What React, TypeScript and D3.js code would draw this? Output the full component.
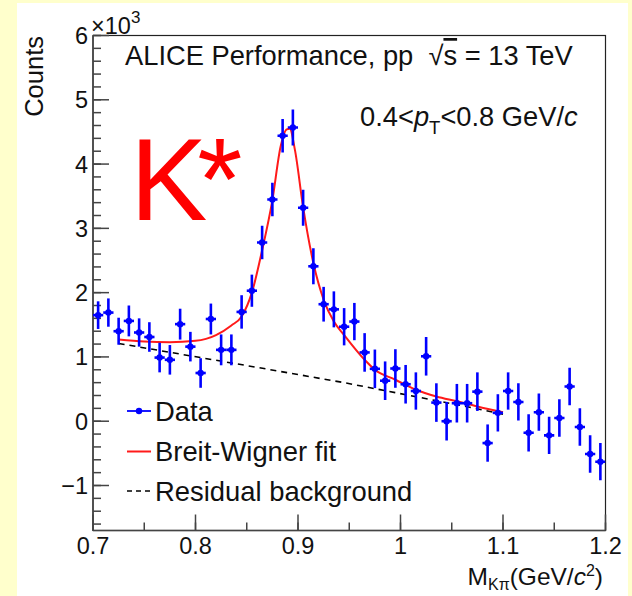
import React from "react";
import * as d3 from "d3";

// ---- data (counts in units of 10^3) ----
const binCenters = [
  0.705, 0.715, 0.725, 0.735, 0.745, 0.755, 0.765, 0.775, 0.785, 0.795,
  0.805, 0.815, 0.825, 0.835, 0.845, 0.855, 0.865, 0.875, 0.885, 0.895,
  0.905, 0.915, 0.925, 0.935, 0.945, 0.955, 0.965, 0.975, 0.985, 0.995,
  1.005, 1.015, 1.025, 1.035, 1.045, 1.055, 1.065, 1.075, 1.085, 1.095,
  1.105, 1.115, 1.125, 1.135, 1.145, 1.155, 1.165, 1.175, 1.185, 1.195,
];
const counts = [
  1.65, 1.69, 1.40, 1.56, 1.38, 1.31, 0.99, 0.955, 1.51, 1.16,
  0.75, 1.59, 1.11, 1.11, 1.70, 2.03, 2.78, 3.45, 4.44, 4.57,
  3.32, 2.41, 1.82, 1.74, 1.47, 1.55, 1.07, 0.815, 0.63, 0.82,
  0.575, 0.47, 1.01, 0.29, 0.0, 0.28, 0.28, 0.46, -0.34, 0.13,
  0.47, 0.30, -0.18, 0.14, -0.22, 0.05, 0.54, -0.09, -0.51, -0.63,
];
const errors = [
  0.215, 0.22, 0.21, 0.24, 0.22, 0.23, 0.23, 0.23, 0.24, 0.23,
  0.23, 0.24, 0.24, 0.24, 0.26, 0.25, 0.26, 0.26, 0.26, 0.28,
  0.28, 0.28, 0.27, 0.28, 0.29, 0.29, 0.30, 0.30, 0.30, 0.30,
  0.30, 0.29, 0.30, 0.30, 0.30, 0.30, 0.30, 0.30, 0.29, 0.29,
  0.29, 0.29, 0.29, 0.29, 0.29, 0.29, 0.29, 0.29, 0.29, 0.29,
];
const binHalfWidth = 0.005;

// Breit-Wigner fit curve
const fitMass = [
  0.725, 0.75, 0.775, 0.8, 0.82, 0.835, 0.845, 0.855, 0.865, 0.875,
  0.883, 0.889, 0.892, 0.897, 0.905, 0.915, 0.925, 0.935, 0.945, 0.965,
  0.975, 0.995, 1.015, 1.035, 1.055, 1.075, 1.1,
];
const fitCounts = [
  1.27, 1.24, 1.23, 1.25, 1.34, 1.49, 1.63, 2.0, 2.66, 3.44,
  4.27, 4.54, 4.55, 4.22, 3.33, 2.46, 1.89, 1.55, 1.34, 0.955,
  0.8, 0.645, 0.49, 0.385, 0.31, 0.23, 0.14,
];
// residual background
const bgMass = [0.725, 0.87, 0.945, 1.07, 1.1];
const bgCounts = [1.21, 0.81, 0.6, 0.21, 0.11];

const xTicks = [0.7, 0.8, 0.9, 1.0, 1.1, 1.2];
const xTickLabels = ["0.7", "0.8", "0.9", "1", "1.1", "1.2"];
const yTicks = [-1, 0, 1, 2, 3, 4, 5, 6];
const yTickLabels = ["\u22121", "0", "1", "2", "3", "4", "5", "6"];
const legendLabels = ["Data", "Breit-Wigner fit", "Residual background"];

const W = 632;
const H = 596;
const FONT = "'Liberation Sans', Arial, Helvetica, sans-serif";

export default function App() {
  const left = 93, right = 605.5, top = 35.5, bottom = 530.5;
  const x = d3.scaleLinear().domain([0.7, 1.2]).range([left, right]);
  const y = d3.scaleLinear().domain([-1.7, 6]).range([bottom, top]);

  const xMinor = d3.range(0, 11).map((i) => 0.7 + i * 0.05);
  const yMinor = d3.range(0, 39).map((i) => -1.6 + i * 0.2).filter((v) => v <= 6.0001);

  const line = d3
    .line<[number, number]>()
    .x((d) => x(d[0]))
    .y((d) => y(d[1]))
    .curve(d3.curveMonotoneX);
  const fitPath = line(fitMass.map((m, i) => [m, fitCounts[i]]) as [number, number][]) || "";
  const bgPath = d3
    .line<[number, number]>()
    .x((d) => x(d[0]))
    .y((d) => y(d[1]))(bgMass.map((m, i) => [m, bgCounts[i]]) as [number, number][]) || "";

  const axisColor = "#444";
  const tickFont = 23.5;

  const legendY = [411, 451.5, 491];

  return (
    <svg
      width={W}
      height={H}
      style={{ position: "absolute", left: 0, top: 0, fontFamily: FONT }}
    >
      <rect x={0} y={0} width={W} height={H} fill="#ffffcc" />
      <rect x={17} y={3} width={611} height={H - 3} fill="#ffffff" />

      <defs>
        <clipPath id="plotclip">
          <rect x={left} y={top} width={right - left} height={bottom - top} />
        </clipPath>
      </defs>

      {/* frame */}
      <rect
        x={left}
        y={top}
        width={right - left}
        height={bottom - top}
        fill="none"
        stroke="#222"
        strokeWidth={1.2}
      />

      {/* y ticks */}
      {yMinor.map((v, i) => (
        <line key={"ym" + i} x1={left} x2={left + 8} y1={y(v)} y2={y(v)} stroke={axisColor} strokeWidth={1.5} />
      ))}
      {yTicks.map((v, i) => (
        <g key={"yt" + i}>
          <line x1={left} x2={left + 16} y1={y(v)} y2={y(v)} stroke={axisColor} strokeWidth={1.5} />
          <text x={88} y={y(v) + 8.5} textAnchor="end" fontSize={tickFont} fill="#111">
            {yTickLabels[i]}
          </text>
        </g>
      ))}
      {/* x ticks */}
      {xMinor.map((v, i) => (
        <line key={"xm" + i} x1={x(v)} x2={x(v)} y1={bottom} y2={bottom - 8} stroke={axisColor} strokeWidth={1.5} />
      ))}
      {xTicks.map((v, i) => (
        <g key={"xt" + i}>
          <line x1={x(v)} x2={x(v)} y1={bottom} y2={bottom - 16} stroke={axisColor} strokeWidth={1.5} />
          <text x={x(v)} y={554} textAnchor="middle" fontSize={tickFont} fill="#111">
            {xTickLabels[i]}
          </text>
        </g>
      ))}
      <line x1={left} x2={left} y1={top} y2={bottom} stroke={axisColor} strokeWidth={1.5} />
      <line x1={left} x2={right} y1={bottom} y2={bottom} stroke={axisColor} strokeWidth={1.5} />

      {/* x10^3 */}
      <text x={91} y={34} fontSize={23.5} fill="#111">
        ×10
        <tspan dy={-11} fontSize={17}>3</tspan>
      </text>

      {/* axis titles */}
      <text
        transform={`translate(43,36) rotate(-90)`}
        textAnchor="end"
        fontSize={25.5}
        fill="#111"
      >
        Counts
      </text>
      <text x={603} y={585} textAnchor="end" fontSize={24.5} fill="#111">
        M
        <tspan dy={5} fontSize={16}>Kπ</tspan>
        <tspan dy={-5}>(GeV/</tspan>
        <tspan fontStyle="italic">c</tspan>
        <tspan dy={-9} fontSize={16}>2</tspan>
        <tspan dy={9}>)</tspan>
      </text>

      {/* curves */}
      <g clipPath="url(#plotclip)">
        <path d={bgPath} fill="none" stroke="#000" strokeWidth={1.6} strokeDasharray="6,5" />
        <path d={fitPath} fill="none" stroke="#ff1a1a" strokeWidth={2} />
        {binCenters.map((m, i) => (
          <g key={"pt" + i} stroke="#0000ff" strokeWidth={2.6}>
            <line x1={x(m)} x2={x(m)} y1={y(counts[i] - errors[i])} y2={y(counts[i] + errors[i])} />
            <line x1={x(m - binHalfWidth)} x2={x(m + binHalfWidth)} y1={y(counts[i])} y2={y(counts[i])} />
            <circle cx={x(m)} cy={y(counts[i])} r={3.2} fill="#0000ff" stroke="none" />
          </g>
        ))}
      </g>

      {/* texts */}
      <text x={125} y={65} fontSize={27.3} fill="#111">
        ALICE Performance, pp{"\u00a0\u00a0"}√
        <tspan style={{ textDecoration: "overline" }}>s</tspan> = 13 TeV
      </text>
      <text x={360} y={126} fontSize={27.3} fill="#111">
        0.4&lt;
        <tspan fontStyle="italic">p</tspan>
        <tspan dy={8} fontSize={18.5}>T</tspan>
        <tspan dy={-8}>&lt;0.8 GeV/</tspan>
        <tspan fontStyle="italic">c</tspan>
      </text>
      <text x={130} y={220} fontSize={116} fill="#ff0000" letterSpacing={-10}>
        K*
      </text>

      {/* legend */}
      <g>
        <line x1={127} x2={151} y1={legendY[0]} y2={legendY[0]} stroke="#0000ff" strokeWidth={1.8} />
        <circle cx={139} cy={legendY[0]} r={3.2} fill="#0000ff" />
        <line x1={127} x2={151} y1={legendY[1]} y2={legendY[1]} stroke="#ff1a1a" strokeWidth={2} />
        <line x1={127} x2={151} y1={legendY[2]} y2={legendY[2]} stroke="#000" strokeWidth={1.6} strokeDasharray="5,4" />
        {legendLabels.map((t, i) => (
          <text key={"lg" + i} x={155} y={legendY[i] + 9.5} fontSize={27.4} fill="#111">
            {t}
          </text>
        ))}
      </g>
    </svg>
  );
}
